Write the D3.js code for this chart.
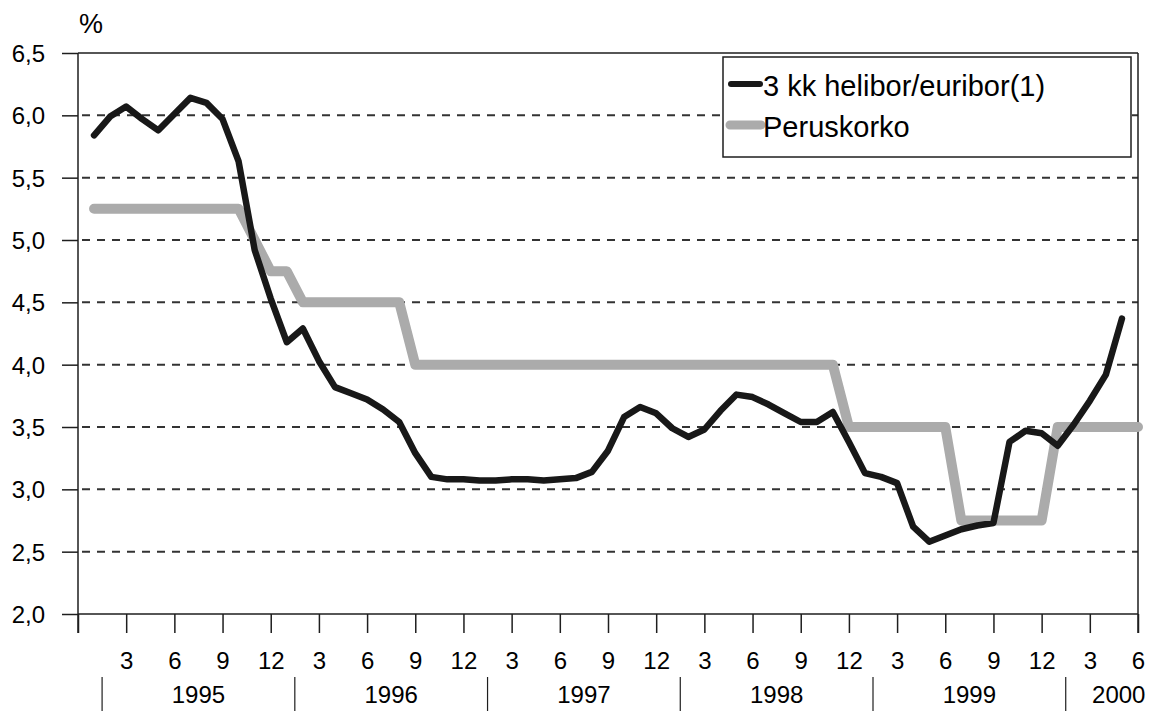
<!DOCTYPE html>
<html>
<head>
<meta charset="utf-8">
<script src="https://cdn.jsdelivr.net/npm/d3@7"></script>
<style>
  body { margin: 0; background: #fff; }
  svg { display: block; font-family: "Liberation Sans", Arial, sans-serif; }
</style>
</head>
<body>
<svg id="chart" width="1150" height="712"></svg>
<script>
// Monthly values, first value = January 1995
const helibor = [
  5.84, 5.99, 6.07, 5.97, 5.88, 6.01, 6.14, 6.10, 5.97, 5.63, 4.92, 4.53,
  4.18, 4.29, 4.03, 3.82, 3.77, 3.72, 3.64, 3.54, 3.29, 3.10, 3.08, 3.08,
  3.07, 3.07, 3.08, 3.08, 3.07, 3.08, 3.09, 3.14, 3.31, 3.58, 3.66, 3.61,
  3.49, 3.42, 3.48, 3.63, 3.76, 3.74, 3.68, 3.61, 3.54, 3.54, 3.62, 3.38,
  3.13, 3.10, 3.05, 2.70, 2.58, 2.63, 2.68, 2.71, 2.73, 3.38, 3.47, 3.45,
  3.35, 3.52, 3.71, 3.92, 4.37
];
const peruskorko = [
  5.25, 5.25, 5.25, 5.25, 5.25, 5.25, 5.25, 5.25, 5.25, 5.25, 5.00, 4.75,
  4.75, 4.50, 4.50, 4.50, 4.50, 4.50, 4.50, 4.50, 4.00, 4.00, 4.00, 4.00,
  4.00, 4.00, 4.00, 4.00, 4.00, 4.00, 4.00, 4.00, 4.00, 4.00, 4.00, 4.00,
  4.00, 4.00, 4.00, 4.00, 4.00, 4.00, 4.00, 4.00, 4.00, 4.00, 4.00, 3.50,
  3.50, 3.50, 3.50, 3.50, 3.50, 3.50, 2.75, 2.75, 2.75, 2.75, 2.75, 2.75,
  3.50, 3.50, 3.50, 3.50, 3.50, 3.50
];
const years = ["1995", "1996", "1997", "1998", "1999", "2000"];
const yTicks = [2.0, 2.5, 3.0, 3.5, 4.0, 4.5, 5.0, 5.5, 6.0, 6.5];
const monthTicks = d3.range(0, 67, 3);
const seriesNames = ["3 kk helibor/euribor(1)", "Peruskorko"];

const svg = d3.select("#chart");

// Scales (x = month number, 1 = Jan 1995)
const x = d3.scaleLinear().domain([0, 66]).range([78, 1138]);
const y = d3.scaleLinear().domain([2, 6.5]).range([614, 53]);

const ink = "#1e1e1e";
const blackLine = "#181818";
const grayLine = "#ababab";

// Horizontal grid lines
svg.append("g")
  .selectAll("line")
  .data(yTicks.filter(d => d > 2))
  .enter()
  .append("line")
  .attr("x1", x(0))
  .attr("x2", x(66))
  .attr("y1", d => y(d))
  .attr("y2", d => y(d))
  .attr("stroke", d => d === 6.5 ? ink : "#333")
  .attr("stroke-width", d => d === 6.5 ? 1.5 : 2)
  .attr("stroke-dasharray", d => d === 6.5 ? null : "8,7")
  .attr("stroke-dashoffset", -4);

// Y axis
const yAxis = svg.append("g")
  .attr("transform", `translate(${x(0)},0)`)
  .call(d3.axisLeft(y)
    .tickValues(yTicks)
    .tickSize(16)
    .tickPadding(17)
    .tickFormat(d => d3.format(".1f")(d).replace(".", ",")));
yAxis.select(".domain").remove();
yAxis.append("line")
  .attr("y1", y(6.5)).attr("y2", 633)
  .attr("stroke", ink).attr("stroke-width", 1.5);
yAxis.selectAll(".tick line").attr("stroke", ink).attr("stroke-width", 1.5);
yAxis.selectAll("text")
  .attr("fill", "#000")
  .style("font-size", "24px")
  .attr("dy", "0.36em");

// Right border
svg.append("line")
  .attr("x1", x(66)).attr("x2", x(66))
  .attr("y1", y(6.5)).attr("y2", 633)
  .attr("stroke", ink).attr("stroke-width", 1.5);

// X axis with month ticks
const xAxis = svg.append("g")
  .attr("transform", `translate(0,${y(2)})`)
  .call(d3.axisBottom(x)
    .tickValues(monthTicks)
    .tickSize(19)
    .tickPadding(19)
    .tickFormat(m => m === 0 ? "" : String((m - 1) % 12 + 1)));
xAxis.select(".domain").attr("stroke", ink).attr("stroke-width", 1.5)
  .attr("d", `M${x(0)},0H${x(66)}`);
xAxis.selectAll(".tick line").attr("stroke", ink).attr("stroke-width", 1.5);
xAxis.selectAll("text")
  .attr("fill", "#000")
  .style("font-size", "24px");

// Year separators and labels
const sepPos = years.map((d, i) => 12 * i + 1.5);
svg.append("g")
  .selectAll("line")
  .data(sepPos)
  .enter()
  .append("line")
  .attr("x1", d => x(d)).attr("x2", d => x(d))
  .attr("y1", 677).attr("y2", 711)
  .attr("stroke", ink).attr("stroke-width", 1.2);

svg.append("g")
  .selectAll("text")
  .data(years)
  .enter()
  .append("text")
  .attr("x", (d, i) => x(i < years.length - 1 ? 12 * i + 7.5 : 12 * i + 4.8))
  .attr("y", 703)
  .attr("text-anchor", "middle")
  .attr("fill", "#000")
  .style("font-size", "24px")
  .text(d => d);

// Unit label
svg.append("text")
  .attr("x", 79)
  .attr("y", 33)
  .attr("fill", "#000")
  .style("font-size", "27px")
  .text("%");

// Lines
const line = d3.line()
  .x((d, i) => x(i + 1))
  .y(d => y(d));

svg.append("path")
  .datum(peruskorko)
  .attr("d", line)
  .attr("fill", "none")
  .attr("stroke", grayLine)
  .attr("stroke-width", 10)
  .attr("stroke-linecap", "round")
  .attr("stroke-linejoin", "round");

svg.append("path")
  .datum(helibor)
  .attr("d", line)
  .attr("fill", "none")
  .attr("stroke", blackLine)
  .attr("stroke-width", 6.5)
  .attr("stroke-linecap", "round")
  .attr("stroke-linejoin", "round");

// Legend
const legend = svg.append("g").attr("transform", "translate(723,57)");
legend.append("rect")
  .attr("width", 408)
  .attr("height", 100)
  .attr("fill", "#fff")
  .attr("stroke", ink)
  .attr("stroke-width", 1.5);

const legendStyles = [
  { color: blackLine, width: 6, y: 27, x1: 8, x2: 37 },
  { color: grayLine, width: 9, y: 68, x1: 7, x2: 38 }
];
legend.selectAll(".legend-item")
  .data(seriesNames)
  .enter()
  .append("g")
  .attr("class", "legend-item")
  .each(function (d, i) {
    const s = legendStyles[i];
    d3.select(this).append("line")
      .attr("x1", s.x1).attr("x2", s.x2)
      .attr("y1", s.y).attr("y2", s.y)
      .attr("stroke", s.color)
      .attr("stroke-width", s.width)
      .attr("stroke-linecap", "round");
    d3.select(this).append("text")
      .attr("x", 40)
      .attr("y", s.y + 12)
      .attr("fill", "#000")
      .style("font-size", "29px")
      .text(d);
  });
</script>
</body>
</html>
